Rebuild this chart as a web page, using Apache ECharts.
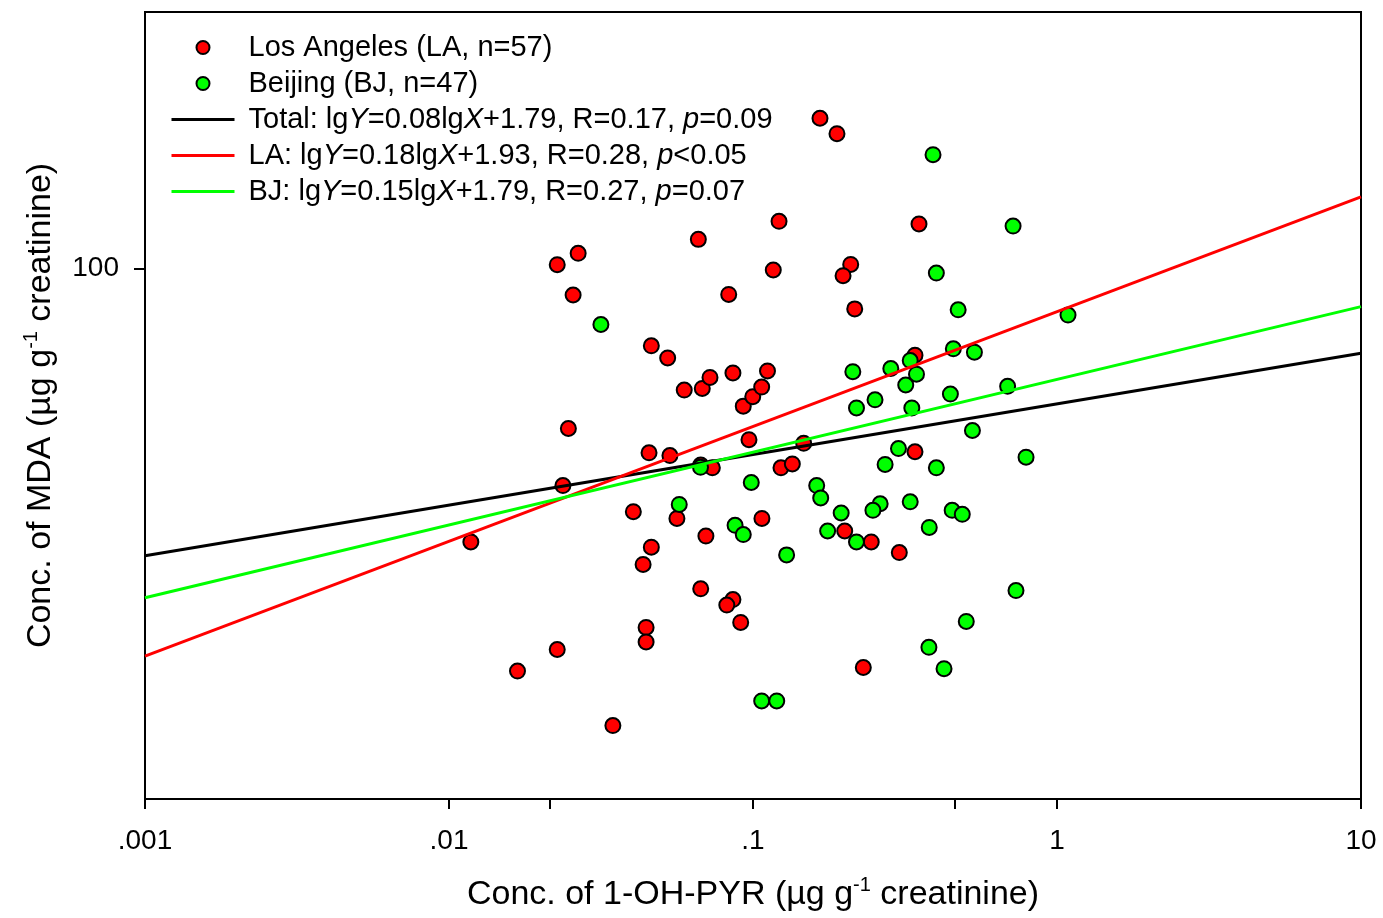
<!DOCTYPE html>
<html>
<head>
<meta charset="utf-8">
<script src="https://cdn.jsdelivr.net/npm/echarts@6/dist/echarts.min.js"></script>
<style>html,body{margin:0;padding:0;background:#fff}#c{width:1383px;height:918px}</style>
</head>
<body>
<div id="c"></div>
<script>
// ---- data ----
const laX = [0.0118, 0.0227, 0.0168, 0.0346, 0.0237, 0.0247, 0.0227, 0.0266, 0.0256, 0.0404, 0.0435, 0.0463, 0.0445, 0.0445, 0.0463, 0.0524, 0.0455, 0.0533, 0.0594, 0.0681, 0.0722, 0.0661, 0.0832, 0.0859, 0.0673, 0.0859, 0.0820, 0.0911, 0.0700, 0.0562, 0.0673, 0.0735, 0.0970, 0.0929, 0.0998, 0.1068, 0.1116, 0.1166, 0.1218, 0.1070, 0.1236, 0.1347, 0.1468, 0.1661, 0.1889, 0.2096, 0.1978, 0.2161, 0.3516, 0.3411, 0.3411, 0.2003, 0.2449, 0.3029, 0.2306];
const laY = [37.6, 25.6, 23.7, 19.5, 46.0, 56.4, 101.3, 105.5, 90.9, 41.9, 34.7, 36.9, 27.7, 26.3, 75.8, 72.6, 51.7, 51.2, 64.7, 65.1, 67.7, 110.9, 91.1, 68.8, 31.8, 30.6, 30.0, 28.2, 38.4, 40.9, 49.5, 49.0, 54.2, 61.1, 63.2, 65.4, 69.3, 99.4, 118.3, 40.9, 49.0, 49.7, 53.5, 171.0, 161.8, 101.4, 97.4, 86.5, 117.2, 73.3, 51.9, 39.1, 37.6, 36.2, 24.0];
const bjX = [0.0316, 0.391, 0.717, 0.401, 0.473, 1.087, 0.213, 0.284, 0.329, 0.456, 0.535, 0.345, 0.318, 0.446, 0.688, 0.252, 0.219, 0.333, 0.527, 0.301, 0.272, 0.401, 0.791, 0.162, 0.167, 0.262, 0.248, 0.329, 0.452, 0.488, 0.195, 0.176, 0.380, 0.219, 0.129, 0.733, 0.503, 0.379, 0.425, 0.1068, 0.1197, 0.0672, 0.0987, 0.0572, 0.0873, 0.0929];
const bjY = [81.8, 150.1, 116.3, 98.3, 86.2, 84.6, 69.1, 69.9, 71.9, 75.0, 74.1, 68.5, 65.9, 63.8, 65.6, 62.5, 60.7, 60.7, 56.0, 52.5, 49.6, 49.0, 50.9, 46.0, 44.0, 43.1, 42.1, 43.4, 42.1, 41.5, 41.7, 39.1, 39.6, 37.6, 35.9, 31.6, 28.3, 25.8, 23.9, 21.3, 21.3, 49.1, 46.5, 43.0, 39.9, 38.6];
const fitX = [0.001, 10];
const totalFit = [35.8, 73.8];
const laFit = [25.0, 129.1];
const bjFit = [30.8, 87.2];
const xLabelValues = [0.001, 0.01, 0.1, 1, 10];
const xLabelText = ['.001', '.01', '.1', '1', '10'];
const xTickValues = [0.001, 0.01, 0.0215, 0.1, 0.462, 1, 10];
const yLabelValues = [100];
const yLabelText = ['100'];
const seriesNames = ['Los Angeles (LA, n=57)', 'Beijing (BJ, n=47)', 'Total', 'LA', 'BJ'];

// ---- rendering ----
const FONT = "'Liberation Sans', Arial, Helvetica, sans-serif";
const pair = (xs, ys) => xs.map((x, i) => [x, ys[i]]);
const near = (a, b) => Math.abs(Math.log10(a) - Math.log10(b)) < 1e-6;

const legendLabels = {
  'Los Angeles (LA, n=57)': '{g| }{n|Los Angeles (LA, n=57)}',
  'Beijing (BJ, n=47)': '{g| }{n|Beijing (BJ, n=47)}',
  'Total': '{g| }{n|Total: lg}{i|Y}{n|=0.08lg}{i|X}{n|+1.79, R=0.17, }{i|p}{n|=0.09}',
  'LA': '{g| }{n|LA: lg}{i|Y}{n|=0.18lg}{i|X}{n|+1.93, R=0.28, }{i|p}{n|<0.05}',
  'BJ': '{g| }{n|BJ: lg}{i|Y}{n|=0.15lg}{i|X}{n|+1.79, R=0.27, }{i|p}{n|=0.07}'
};
const legendRich = {
  n: {fontFamily: FONT, fontSize: 29, color: '#000'},
  i: {fontFamily: FONT, fontSize: 29, fontStyle: 'italic', color: '#000'},
  g: {width: 9}
};
const nameRich = {
  a: {fontFamily: FONT, fontSize: 34, color: '#000', lineHeight: 40},
  s: {fontFamily: FONT, fontSize: 20, color: '#000', lineHeight: 24, verticalAlign: 'top'}
};
const hiddenMarker = {color: 'rgba(0,0,0,0)', borderWidth: 0, opacity: 0};

const chart = echarts.init(document.getElementById('c'), null, {renderer: 'canvas'});
chart.setOption({
  animation: false,
  backgroundColor: '#fff',
  grid: {left: 145, right: 22, top: 12, bottom: 119, show: true, borderColor: '#000', borderWidth: 2, containLabel: false, outerBoundsMode: 'none'},
  legend: {
    left: 170, top: 33, padding: 0, orient: 'vertical', itemWidth: 63, itemHeight: 13, itemGap: 7,
    selectedMode: false,
    data: [
      {name: seriesNames[0], icon: 'circle'},
      {name: seriesNames[1], icon: 'circle'},
      {name: seriesNames[2], itemStyle: hiddenMarker, lineStyle: {width: 3}},
      {name: seriesNames[3], itemStyle: hiddenMarker, lineStyle: {width: 3}},
      {name: seriesNames[4], itemStyle: hiddenMarker, lineStyle: {width: 3}}
    ],
    formatter: n => legendLabels[n],
    textStyle: {rich: legendRich}
  },
  xAxis: {
    type: 'log', logBase: 10, min: 0.001, max: 10,
    axisLine: {show: true, lineStyle: {color: '#000', width: 2}},
    axisTick: {show: true, inside: false, length: 10, lineStyle: {color: '#000', width: 2}, customValues: xTickValues},
    axisLabel: {
      customValues: xLabelValues,
      formatter: v => { const k = xLabelValues.findIndex(t => near(t, v)); return k >= 0 ? xLabelText[k] : ''; },
      fontFamily: FONT, fontSize: 28, color: '#000', margin: 28
    },
    splitLine: {show: false},
    name: '{a|Conc. of 1-OH-PYR (µg g}{s|-1}{a| creatinine)}',
    nameLocation: 'middle', nameGap: 76,
    nameTextStyle: {rich: nameRich}
  },
  yAxis: {
    type: 'log', logBase: 10, min: 15, max: 250,
    axisLine: {show: true, lineStyle: {color: '#000', width: 2}},
    axisTick: {show: true, inside: false, length: 11, lineStyle: {color: '#000', width: 2}, customValues: yLabelValues},
    axisLabel: {
      customValues: yLabelValues,
      formatter: v => { const k = yLabelValues.findIndex(t => near(t, v)); return k >= 0 ? yLabelText[k] : ''; },
      fontFamily: FONT, fontSize: 28, color: '#000', margin: 26
    },
    splitLine: {show: false},
    name: '{a|Conc. of MDA (µg g}{s|-1}{a| creatinine)}',
    nameLocation: 'middle', nameGap: 84,
    nameTextStyle: {rich: nameRich}
  },
  series: [
    {name: seriesNames[0], type: 'scatter', data: pair(laX, laY), symbol: 'circle', symbolSize: 15, z: 2,
     itemStyle: {color: '#ff0000', borderColor: '#000', borderWidth: 2, opacity: 1}},
    {name: seriesNames[1], type: 'scatter', data: pair(bjX, bjY), symbol: 'circle', symbolSize: 15, z: 3,
     itemStyle: {color: '#00ff00', borderColor: '#000', borderWidth: 2, opacity: 1}},
    {name: seriesNames[2], type: 'line', data: pair(fitX, totalFit), symbol: 'none', showSymbol: false, z: 4,
     lineStyle: {color: '#000', width: 3}, itemStyle: {color: '#000'}},
    {name: seriesNames[3], type: 'line', data: pair(fitX, laFit), symbol: 'none', showSymbol: false, z: 4,
     lineStyle: {color: '#ff0000', width: 3}, itemStyle: {color: '#ff0000'}},
    {name: seriesNames[4], type: 'line', data: pair(fitX, bjFit), symbol: 'none', showSymbol: false, z: 4,
     lineStyle: {color: '#00ff00', width: 3}, itemStyle: {color: '#00ff00'}}
  ]
});
</script>
</body>
</html>
